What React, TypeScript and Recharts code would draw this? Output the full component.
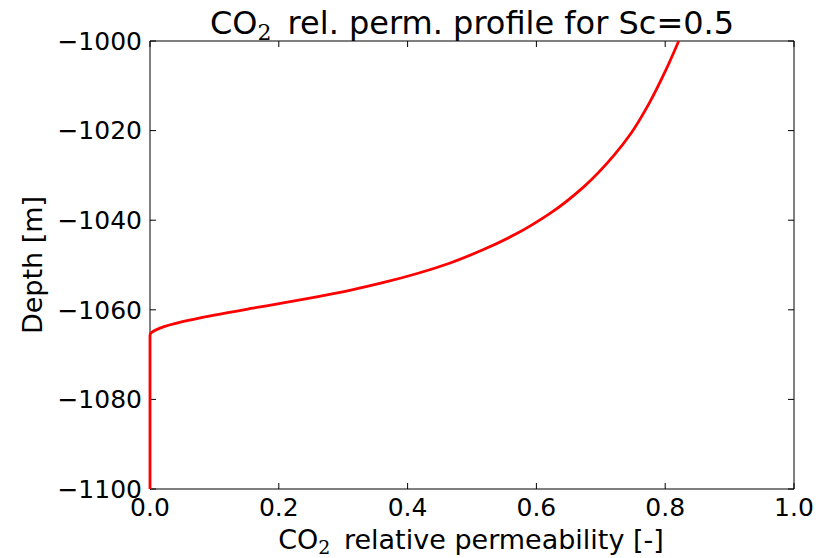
import React from "react";
import {
  Line,
  LineChart,
  ReferenceArea,
  ReferenceLine,
  XAxis,
  YAxis,
} from "recharts";

// CO2 relative permeability vs depth (Sc = 0.5)
const relPerm = [
  0, 0, 0.0155, 0.052, 0.0996, 0.157, 0.209, 0.259, 0.312, 0.363, 0.415,
  0.465, 0.517, 0.568, 0.62, 0.674, 0.72, 0.747, 0.774, 0.8, 0.821,
];
const depth = [
  -1100, -1065.6, -1064.1, -1062.6, -1061.2, -1059.7, -1058.4, -1057.1,
  -1055.6, -1053.9, -1051.9, -1049.6, -1046.6, -1043.1, -1038.6, -1032.5,
  -1025.6, -1020.6, -1014.2, -1006.8, -1000,
];

const xTicks = [0, 0.2, 0.4, 0.6, 0.8, 1.0];
const yTicks = [-1100, -1080, -1060, -1040, -1020, -1000];

const W = 826;
const H = 558;
const FONT = "'DejaVu Sans', sans-serif";
const MATH = "'DejaVu Serif', serif";

// tick mark lengths in data units (~6px inward)
const TICK_X = 0.0093;
const TICK_Y = 1.34;

const data = relPerm.map((kr, i) => ({ kr, depth: depth[i] }));

const minus = (v: number) => String(v).replace("-", "\u2212");

export default function App() {
  return (
    <div
      style={{
        position: "absolute",
        left: 0,
        top: 0,
        width: W,
        height: H,
        background: "#fff",
        fontFamily: FONT,
      }}
    >
      <LineChart
        width={W}
        height={H}
        data={data}
        margin={{ top: 41, right: 32, bottom: 39, left: 50 }}
      >
        <XAxis
          dataKey="kr"
          type="number"
          domain={[0, 1]}
          ticks={xTicks}
          tickFormatter={(v) => v.toFixed(1)}
          height={30}
          tickSize={0}
          tickMargin={9}
          tickLine={false}
          axisLine={false}
          tick={{ fill: "#000", fontSize: 25, fontFamily: FONT }}
        />
        <YAxis
          dataKey="depth"
          type="number"
          domain={[-1100, -1000]}
          ticks={yTicks}
          tickFormatter={minus}
          width={100}
          tickSize={0}
          tickMargin={8}
          tickLine={false}
          axisLine={false}
          tick={{ fill: "#000", fontSize: 25, fontFamily: FONT }}
        />
        <ReferenceArea
          x1={0}
          x2={1}
          y1={-1100}
          y2={-1000}
          fill="none"
          stroke="#000"
          strokeWidth={1}
        />
        {xTicks.map((t) => (
          <ReferenceLine
            key={`xb${t}`}
            segment={[
              { x: t, y: -1100 },
              { x: t, y: -1100 + TICK_Y },
            ]}
            stroke="#000"
          />
        ))}
        {xTicks.map((t) => (
          <ReferenceLine
            key={`xt${t}`}
            segment={[
              { x: t, y: -1000 },
              { x: t, y: -1000 - TICK_Y },
            ]}
            stroke="#000"
          />
        ))}
        {yTicks.map((t) => (
          <ReferenceLine
            key={`yl${t}`}
            segment={[
              { x: 0, y: t },
              { x: TICK_X, y: t },
            ]}
            stroke="#000"
          />
        ))}
        {yTicks.map((t) => (
          <ReferenceLine
            key={`yr${t}`}
            segment={[
              { x: 1, y: t },
              { x: 1 - TICK_X, y: t },
            ]}
            stroke="#000"
          />
        ))}
        <Line
          dataKey="depth"
          type="monotoneY"
          stroke="#ff0000"
          strokeWidth={2.8}
          dot={false}
          isAnimationActive={false}
        />
      </LineChart>
      <svg
        width={W}
        height={H}
        style={{ position: "absolute", left: 0, top: 0, pointerEvents: "none" }}
      >
        <text
          x={472}
          y={34}
          textAnchor="middle"
          fontSize={32}
          fontFamily={FONT}
          fill="#000"
        >
          CO
          <tspan dy={6} fontSize={22} fontFamily={MATH}>
            2
          </tspan>
          <tspan dy={-6} dx={6}>
            {" "}rel. perm. profile for Sc=0.5
          </tspan>
        </text>
        <text
          x={471}
          y={549}
          textAnchor="middle"
          fontSize={27}
          fontFamily={FONT}
          fill="#000"
        >
          CO
          <tspan dy={5} fontSize={19} fontFamily={MATH}>
            2
          </tspan>
          <tspan dy={-5} dx={5}>
            {" "}relative permeability [-]
          </tspan>
        </text>
        <text
          x={42}
          y={265}
          textAnchor="middle"
          fontSize={27}
          fontFamily={FONT}
          fill="#000"
          transform="rotate(-90 42 265)"
        >
          Depth [m]
        </text>
      </svg>
    </div>
  );
}
